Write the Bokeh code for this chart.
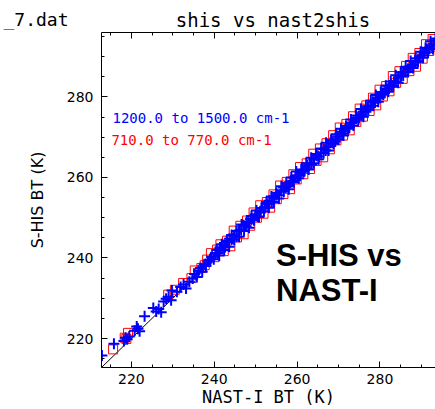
from bokeh.plotting import figure
from bokeh.models import Range1d, FixedTicker, LinearAxis, Label
from bokeh.layouts import column
from bokeh.embed import file_html
from bokeh.resources import INLINE

# ---------------- data ----------------
x_major_ticks = [220, 240, 260, 280]
y_major_ticks = [220, 240, 260, 280]
x_minor_ticks = [215, 225, 230, 235, 245, 250, 255, 265, 270, 275, 285, 290]
y_minor_ticks = [215, 225, 230, 235, 245, 250, 255, 265, 270, 275, 285, 290, 295]

one_to_one = [212.8, 296.0]

# 1200.0 to 1500.0 cm-1 (blue plus signs)
blue_nast = [212.9, 215.8, 218.2, 218.6, 219.0, 219.5, 220.8, 221.3, 221.6, 222.0,
             223.2, 225.3, 226.0, 226.6, 227.2, 227.8, 228.4, 229.0, 229.6, 229.8,
             231.0, 231.9, 232.6, 233.2, 234.0, 234.8, 235.3, 235.8, 236.2, 236.7,
             237.1, 237.6, 238.0, 238.5, 239.0, 239.4, 239.9,
             240.3, 240.9, 241.4, 242.0, 242.6, 243.1, 243.7, 244.3, 244.8, 245.4,
             246.0, 246.5, 247.1, 247.7, 248.2, 248.8, 249.4, 249.9, 250.5, 251.1,
             251.6, 252.2, 252.8, 253.3, 253.9, 254.5, 255.0, 255.6, 256.2, 256.7,
             257.3, 257.9, 258.4, 259.0, 259.6, 260.1, 260.7, 261.3, 261.8, 262.4,
             263.0, 263.5, 264.1, 264.7, 265.2, 265.8, 266.4, 266.9, 267.5, 268.1,
             268.6, 269.2, 269.8, 270.3, 270.9, 271.5, 272.0, 272.6, 273.2, 273.7,
             274.3, 274.9, 275.4, 276.0, 276.6, 277.1, 277.7, 278.3, 278.8, 279.4,
             280.0, 280.5, 281.1, 281.7, 282.2, 282.8, 283.4, 283.9, 284.5, 285.1,
             285.6, 286.2, 286.8, 287.3, 287.9, 288.5, 289.0, 289.6, 290.2, 290.7,
             291.3, 291.9, 292.4, 293.0, 293.6,
             240.6, 241.2, 241.8, 242.4, 243.0, 243.6, 244.2, 244.8, 245.4, 246.0,
             246.6, 247.2, 247.8, 248.4, 249.0, 249.6, 250.2, 250.8, 251.4, 252.0,
             252.6, 253.2, 253.8, 254.4, 255.0, 255.6, 256.2, 256.8, 257.4, 258.0,
             258.6, 259.2, 259.8, 260.4, 261.0, 261.6, 262.2, 262.8, 263.4, 264.0,
             264.6, 265.2, 265.8, 266.4, 267.0, 267.6, 268.2, 268.8, 269.4, 270.0,
             270.6, 271.2, 271.8, 272.4, 273.0, 273.6, 274.2, 274.8, 275.4, 276.0,
             276.6, 277.2, 277.8, 278.4, 279.0, 279.6, 280.2, 280.8, 281.4, 282.0,
             282.6, 283.2, 283.8, 284.4, 285.0, 285.6, 286.2, 286.8, 287.4, 288.0,
             288.6, 289.2, 289.8, 290.4, 291.0, 291.6, 292.2, 292.8, 293.4]
blue_shis = [215.8, 218.7, 219.4, 220.2, 219.8, 220.5, 221.9, 223.0, 222.4, 221.8,
             225.5, 227.6, 226.7, 227.3, 226.5, 229.2, 229.9, 230.4, 229.5, 231.9,
             231.6, 232.8, 233.4, 232.4, 234.1, 234.9, 236.0, 235.3, 236.8, 237.5,
             236.6, 238.4, 238.0, 239.1, 239.6, 240.3, 239.7,
             241.2, 241.2, 242.6, 242.6, 242.7, 244.0, 244.8, 244.7, 245.5, 245.3,
             246.8, 247.0, 248.1, 247.9, 248.8, 249.7, 249.7, 250.6, 250.3, 251.6,
             252.4, 252.4, 253.4, 254.2, 254.0, 254.9, 255.7, 255.6, 256.7, 257.5,
             257.6, 257.8, 259.0, 259.2, 260.3, 260.5, 260.5, 261.8, 261.9, 263.0,
             263.3, 263.2, 264.5, 265.4, 265.2, 266.1, 267.0, 266.7, 267.7, 268.6,
             268.7, 268.9, 270.2, 270.9, 270.9, 271.7, 272.5, 272.4, 273.5, 273.8,
             274.9, 274.8, 275.6, 276.4, 276.3, 277.4, 277.8, 278.8, 278.6, 279.6,
             280.0, 280.9, 281.0, 282.0, 282.8, 282.8, 283.6, 283.7, 284.9, 285.2,
             286.1, 286.1, 287.0, 287.7, 287.9, 288.8, 288.8, 290.1, 290.3, 291.0,
             291.9, 291.9, 292.8, 293.2, 294.1,
             242.0, 240.6, 243.4, 242.0, 244.2, 242.8, 245.7, 244.5, 246.7, 245.3,
             248.3, 246.7, 248.9, 247.5, 250.4, 249.4, 251.8, 250.2, 252.4, 251.6,
             253.9, 252.5, 255.3, 253.9, 256.2, 254.8, 257.8, 256.5, 258.5, 257.1,
             260.0, 258.8, 261.5, 259.8, 262.0, 261.4, 263.5, 262.0, 264.9, 263.5,
             265.8, 264.5, 267.2, 266.1, 268.6, 266.7, 269.3, 268.4, 270.7, 269.4,
             272.1, 270.4, 272.8, 272.1, 274.4, 272.9, 275.4, 274.3, 277.0, 275.1,
             277.7, 276.8, 279.1, 277.8, 280.5, 278.8, 281.2, 280.6, 282.8, 281.3,
             283.8, 282.7, 285.4, 283.5, 286.1, 285.3, 287.5, 286.2, 288.9, 287.2,
             289.6, 288.8, 291.2, 289.7, 292.2, 291.1, 293.8, 291.9, 294.5]

# 710.0 to 770.0 cm-1 (red squares)
red_nast = [215.6, 218.4, 219.2, 218.8, 228.9, 230.5, 232.5, 234.5, 235.3, 236.1,
            236.9, 237.7, 238.3, 239.2, 240.1, 240.7,
            241.5, 242.3, 243.1, 243.9, 244.7, 245.5, 246.3, 247.1, 247.9, 248.7,
            249.5, 250.3, 251.1, 251.9, 252.7, 253.5, 254.3, 255.1, 255.9, 256.7,
            257.5, 258.3, 259.1, 259.9, 260.7, 261.5, 262.3, 263.1, 263.9, 264.7,
            265.5, 266.3, 267.1, 267.9, 268.7, 269.5, 270.3, 271.1, 271.9, 272.7,
            273.5, 274.3, 275.1, 275.9, 276.7, 277.5, 278.3, 279.1, 279.9, 280.7,
            281.5, 282.3, 283.1, 283.9, 284.7, 285.5, 286.3, 287.1, 287.9, 288.7,
            289.5, 290.3, 291.1, 291.9, 292.7, 293.5]
red_shis = [217.3, 220.2, 221.4, 219.9, 230.9, 232.1, 233.8, 235.0, 236.9, 236.3,
            237.5, 238.2, 239.6, 241.2, 240.2, 242.1,
            243.4, 241.7, 244.3, 242.9, 246.8, 245.1, 248.0, 245.9, 249.3, 248.0,
            251.3, 250.0, 253.1, 251.0, 253.9, 252.5, 255.8, 254.6, 258.0, 255.9,
            258.9, 257.1, 260.8, 259.5, 262.6, 260.8, 263.5, 262.1, 265.9, 264.1,
            267.2, 265.0, 268.5, 267.0, 270.5, 269.2, 272.4, 270.4, 273.3, 271.7,
            275.2, 273.8, 277.1, 275.1, 277.9, 276.5, 279.8, 277.9, 281.8, 280.1,
            282.7, 281.4, 285.2, 283.5, 286.4, 284.5, 287.7, 286.4, 289.7, 287.5,
            290.9, 289.5, 293.1, 291.4, 294.4, 292.5]

title_text = "shis vs nast2shis"
file_text = "_7.dat"
x_label = "NAST-I BT (K)"
y_label = "S-HIS BT (K)"
blue_label = "1200.0 to 1500.0 cm-1"
red_label = "710.0 to 770.0 cm-1"
big_line1 = "S-HIS vs"
big_line2 = "NAST-I"

FONT = "DejaVu Sans"
MONO = "DejaVu Sans Mono"

# ---------------- header strip (title texts) ----------------
head = figure(width=435, height=30, output_backend="svg", toolbar_location=None,
              title=None, x_range=Range1d(100, 435), y_range=Range1d(0, 30),
              x_axis_type=None, y_axis_type=None,
              min_border_left=100, min_border_right=0, min_border_top=0,
              min_border_bottom=0)
head.outline_line_color = None
head.grid.visible = False
head.background_fill_color = "white"
head.border_fill_color = "white"
head.add_layout(Label(x=272, y=10.5, text=title_text, text_font=MONO,
                      text_font_size="19px", text_color="black",
                      text_align="center", text_baseline="alphabetic"))
file_axis = LinearAxis(ticker=FixedTicker(ticks=[11.5], minor_ticks=[]),
                       major_label_overrides={11.5: file_text})
file_axis.axis_line_color = None
file_axis.major_tick_line_color = None
file_axis.minor_tick_line_color = None
file_axis.major_tick_in = 0
file_axis.major_tick_out = 0
file_axis.major_label_standoff = 33
file_axis.major_label_text_font = MONO
file_axis.major_label_text_font_size = "18px"
file_axis.major_label_text_color = "black"
head.add_layout(file_axis, "left")

# ---------------- main figure ----------------
p = figure(width=435, height=379, output_backend="svg", toolbar_location=None,
           x_range=Range1d(212.8, 293.4), y_range=Range1d(212.8, 296.0),
           min_border_left=100, min_border_right=0, min_border_top=2,
           min_border_bottom=41)
p.outline_line_color = None
p.grid.visible = False
p.background_fill_color = "white"
p.border_fill_color = "white"


def style_axis(ax, ticks, minors):
    ax.ticker = FixedTicker(ticks=ticks, minor_ticks=minors)
    ax.axis_line_color = "black"
    ax.axis_line_width = 1
    ax.major_tick_in = 6
    ax.major_tick_out = 0
    ax.minor_tick_in = 3
    ax.minor_tick_out = 0
    ax.major_tick_line_color = "black"
    ax.minor_tick_line_color = "black"
    ax.major_label_text_font = FONT
    ax.major_label_text_font_size = "14px"
    ax.major_label_text_color = "black"


xa = p.xaxis[0]
style_axis(xa, x_major_ticks, x_minor_ticks)
xa.major_label_standoff = 6
xa.axis_label = x_label
xa.axis_label_text_font = MONO
xa.axis_label_text_font_size = "17px"
xa.axis_label_text_font_style = "normal"
xa.axis_label_text_color = "black"
xa.axis_label_standoff = 0

ya = p.yaxis[0]
style_axis(ya, y_major_ticks, y_minor_ticks)
ya.major_label_standoff = 8
ya.axis_label = y_label
ya.axis_label_text_font = FONT
ya.axis_label_text_font_size = "16px"
ya.axis_label_text_font_style = "normal"
ya.axis_label_text_color = "black"
ya.axis_label_standoff = 17

top = LinearAxis()
style_axis(top, x_major_ticks, x_minor_ticks)
top.major_label_text_font_size = "1px"
top.major_label_text_alpha = 0
top.major_label_standoff = 0
p.add_layout(top, "above")

# 1:1 line
p.line(one_to_one, one_to_one, line_color="black", line_width=1)

# data
p.scatter(red_nast, red_shis, marker="square", size=9, fill_color=None,
          line_color="red", line_width=1)
p.scatter(blue_nast, blue_shis, marker="cross", size=11, line_color="blue",
          line_width=2)


def add_label(x, y, text, color="black", size="14px", font=FONT, style="normal"):
    p.add_layout(Label(x=x, y=y, text=text, text_color=color, text_font=font,
                       text_font_size=size, text_font_style=style,
                       text_align="left", text_baseline="alphabetic"))


add_label(215.45, 274.83, blue_label, color="blue", size="14px", font=MONO)
add_label(215.2, 269.21, red_label, color="red", size="14px", font=MONO)
add_label(254.92, 240.57, big_line1, size="31px", font="Liberation Sans", style="bold")
add_label(254.92, 231.89, big_line2, size="31px", font="Liberation Sans", style="bold")

open("out.html", "w").write(file_html(column(head, p), INLINE))
